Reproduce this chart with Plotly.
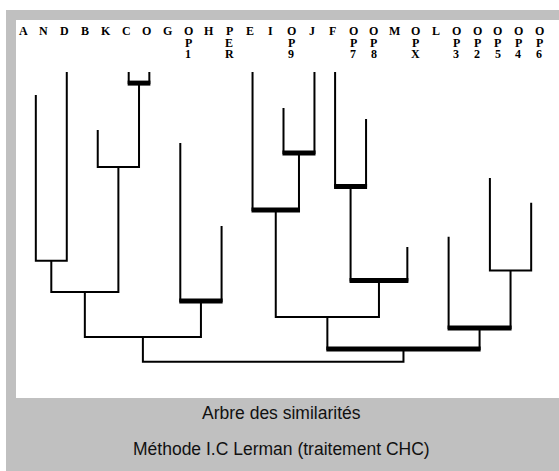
import plotly.graph_objects as go

# ---- data -------------------------------------------------------------
labels = ["A", "N", "D", "B", "K", "C", "O", "G", "OP1", "H", "PER", "E", "I",
          "OP9", "J", "F", "OP7", "OP8", "M", "OPX", "L", "OP3", "OP2", "OP5",
          "OP4", "OP6"]

# first-level classes (ids 0..15) and the similarity level where their line starts
class_members = [["A", "N"], ["D"], ["B", "K"], ["C"], ["O"], ["G", "OP1"],
                 ["H", "PER"], ["E"], ["I", "OP9"], ["J"], ["F"], ["OP7", "OP8"],
                 ["M", "OPX"], ["L", "OP3"], ["OP2", "OP5"], ["OP4", "OP6"]]
class_levels = [0.923, 1.0, 0.807, 1.0, 1.0, 0.763, 0.487, 1.0, 0.88, 1.0, 1.0,
                0.843, 0.417, 0.451, 0.647, 0.564]

# successive merges (new node ids 16, 17, ...)
merge_left = [3, 2, 0, 18, 5, 19, 8, 7, 10, 24, 23, 14, 13, 26, 21]
merge_right = [4, 16, 1, 17, 6, 20, 9, 22, 11, 12, 25, 15, 27, 28, 29]
merge_levels = [0.963, 0.683, 0.371, 0.267, 0.237, 0.117, 0.73, 0.54, 0.618,
                0.305, 0.183, 0.338, 0.147, 0.077, 0.034]
merge_significant = [True, False, False, False, True, False, True, True, True,
                     True, False, False, True, True, False]

title_lines = ["Arbre des similarités", "Méthode I.C Lerman (traitement CHC)"]

# ---- geometry from data ----------------------------------------------
W, H = 559, 471
pos = {lab: i for i, lab in enumerate(labels)}
node_x = [sum(pos[m] for m in grp) / len(grp) for grp in class_members]
node_lvl = list(class_levels)
for l, r, lv in zip(merge_left, merge_right, merge_levels):
    node_x.append((node_x[l] + node_x[r]) / 2)
    node_lvl.append(lv)

ux, uy, bx, by = [], [], [], []
for l, r, lv, sig in zip(merge_left, merge_right, merge_levels, merge_significant):
    ux += [node_x[l], node_x[l], node_x[r], node_x[r], None]
    uy += [node_lvl[l], lv, lv, node_lvl[r], None]
    if sig:
        bx += [node_x[l] - 0.05, node_x[r] + 0.05, None]
        by += [lv, lv, None]

fig = go.Figure()
fig.add_trace(go.Scatter(x=ux, y=uy, mode="lines",
                         line=dict(color="black", width=2),
                         hoverinfo="skip", showlegend=False))
fig.add_trace(go.Scatter(x=bx, y=by, mode="lines",
                         line=dict(color="black", width=5),
                         hoverinfo="skip", showlegend=False))

# ---- frame ------------------------------------------------------------
shapes = [
    dict(type="rect", xref="paper", yref="paper", x0=6 / W, x1=1.0,
         y0=0.0, y1=1 - 10 / H, fillcolor="#c0c0c0", line=dict(width=0),
         layer="below"),
    dict(type="rect", xref="paper", yref="paper", x0=16 / W, x1=1.0,
         y0=1 - 398 / H, y1=1 - 20 / H, fillcolor="white", line=dict(width=0),
         layer="below"),
]

annotations = []
for i, lab in enumerate(labels):
    for r, ch in enumerate(lab):
        annotations.append(dict(
            x=i, xref="x", y=1 - (31 + 11.7 * r) / H, yref="paper",
            text="<b>" + ch + "</b>", showarrow=False, xshift=-2.5,
            xanchor="center", yanchor="middle",
            font=dict(family="Liberation Serif", size=12, color="black")))

for k, t in enumerate(title_lines):
    annotations.append(dict(
        x=281 / W, xref="paper", y=1 - (413 + 36 * k) / H, yref="paper",
        text=t, showarrow=False, xanchor="center", yanchor="middle",
        font=dict(family="Liberation Sans", size=17.5, color="#111111")))

# pixel = 25.5 + 20.64 * index ; pixel = 72 + (1 - level) * 300
x0 = -25.5 / 20.64
fig.update_layout(
    width=W, height=H,
    margin=dict(l=0, r=0, t=0, b=0),
    paper_bgcolor="white", plot_bgcolor="rgba(0,0,0,0)",
    xaxis=dict(range=[x0, x0 + W / 20.64], visible=False, fixedrange=True),
    yaxis=dict(range=[1 - (H - 72) / 300, 1 + 72 / 300], visible=False,
               fixedrange=True),
    shapes=shapes, annotations=annotations,
)

fig.write_html("out.html", config={"displayModeBar": False},
               post_script="document.body.style.margin='0';"
                           "document.body.style.overflow='hidden';")
